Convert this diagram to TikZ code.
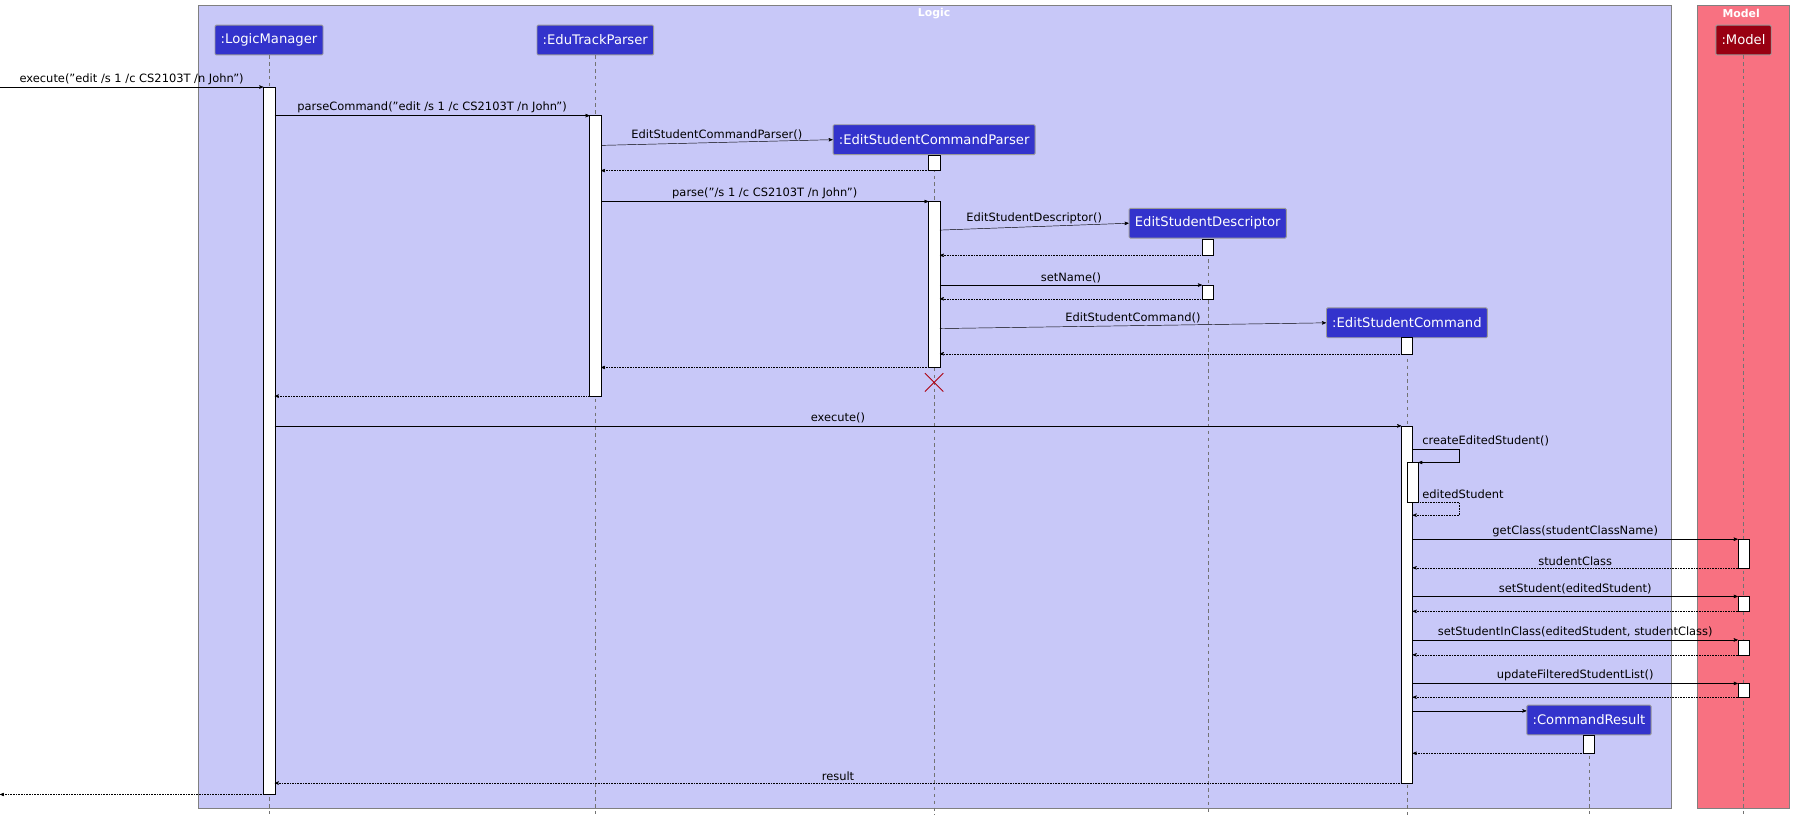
\documentclass[tikz,border=0pt]{standalone}
\usepackage{fontspec}
\setmainfont{DejaVu Sans}
\usetikzlibrary{positioning,calc,arrows}
\definecolor{logicbg}{RGB}{200,200,248}
\definecolor{modelbg}{RGB}{248,113,129}
\definecolor{partblue}{RGB}{51,51,204}
\definecolor{partred}{RGB}{153,0,18}
\begin{document}
\begin{tikzpicture}[x=1pt,y=-1pt,>=stealth',thick,
  part/.style={rectangle,rounded corners=1pt,draw=black!40,fill=partblue,text=white,font=\fontsize{11.5}{13}\selectfont,minimum height=26pt,inner xsep=5pt},
  act/.style={draw=black,fill=white,thin},
  life/.style={dashed,black!55,thin},
  msg/.style={->,thin},
  ret/.style={->,thin,densely dotted},
  lbl/.style={font=\fontsize{10}{12}\selectfont,inner sep=2pt}]
\useasboundingbox (0,0) rectangle (1568,712);
% boxes
  \draw[fill=logicbg,draw=black!50] (173,5) rectangle (1460,706);
  \draw[fill=modelbg,draw=black!50] (1483,5) rectangle (1563,706);
  \node[text=white,font=\bfseries\fontsize{9.5}{11}\selectfont] (logic) at (816,12) {Logic};
  \node[text=white,font=\bfseries\fontsize{9.5}{11}\selectfont] (model) at (1521,12) {Model};
% participants
  \node[part] (lm) at (235,35) {:LogicManager};
  \node[part] (etp) at (520,35) {:EduTrackParser};
  \node[part] (escp) at (816,122) {:EditStudentCommandParser};
  \node[part] (esd) at (1055,195) {EditStudentDescriptor};
  \node[part] (esc) at (1229,282) {:EditStudentCommand};
  \node[part] (cr) at (1388,629) {:CommandResult};
  \node[part,fill=partred] (mdl) at (1523,35) {:Model};
% lifelines
  \foreach \p/\x in {lm/235,etp/520,escp/816,esd/1055,esc/1229,cr/1388,mdl/1523}
    \draw[life] (\p.south) -- (\x,712);
% activations
  \draw[act] (230,76) rectangle (240,694);
  \draw[act] (515,101) rectangle (525,346);
  \draw[act] (811,136) rectangle (821,149);
  \draw[act] (811,176) rectangle (821,321);
  \draw[act] (1050,209) rectangle (1060,223);
  \draw[act] (1050,249) rectangle (1060,261);
  \draw[act] (1224,295) rectangle (1234,309);
  \draw[act] (1224,372) rectangle (1234,684);
  \draw[act] (1229,404) rectangle (1239,439);
  \foreach \a/\b in {471/496,521/534,559/572,597/609}
    \draw[act] (1518,\a) rectangle (1528,\b);
  \draw[act] (1383,642) rectangle (1393,658);
% destroy
  \draw[partred!80!red,thick] (808,326) -- (824,342) (808,342) -- (824,326);
% messages
  \draw[msg] (0,76) -- (230,76) node[lbl,midway,above] {execute("edit /s 1 /c CS2103T /n John")};
  \draw[msg] (240,101) -- (515,101) node[lbl,midway,above] {parseCommand("edit /s 1 /c CS2103T /n John")};
  \draw[msg] (525,127) -- (escp.west) node[lbl,midway,above] {EditStudentCommandParser()};
  \draw[ret] (811,149) -- (525,149);
  \draw[msg] (525,176) -- (811,176) node[lbl,midway,above] {parse("/s 1 /c CS2103T /n John")};
  \draw[msg] (821,201) -- (esd.west) node[lbl,midway,above] {EditStudentDescriptor()};
  \draw[ret] (1050,223) -- (821,223);
  \draw[msg] (821,249) -- (1050,249) node[lbl,midway,above] {setName()};
  \draw[ret] (1050,261) -- (821,261);
  \draw[msg] (821,287) -- (esc.west) node[lbl,midway,above] {EditStudentCommand()};
  \draw[ret] (1224,309) -- (821,309);
  \draw[ret] (811,321) -- (525,321);
  \draw[ret] (515,346) -- (240,346);
  \draw[msg] (240,372) -- (1224,372) node[lbl,midway,above] {execute()};
  \draw[msg] (1234,392) -- (1275,392) -- (1275,404) -- (1239,404);
  \node[lbl,anchor=south west] (ces) at (1240,392) {createEditedStudent()};
  \draw[ret] (1239,439) -- (1275,439) -- (1275,450) -- (1234,450);
  \node[lbl,anchor=south west] (eds) at (1240,438) {editedStudent};
  \draw[msg] (1234,471) -- (1518,471) node[lbl,midway,above] {getClass(studentClassName)};
  \draw[ret] (1518,496) -- (1234,496) node[lbl,midway,above] {studentClass};
  \draw[msg] (1234,521) -- (1518,521) node[lbl,midway,above] {setStudent(editedStudent)};
  \draw[ret] (1518,534) -- (1234,534);
  \draw[msg] (1234,559) -- (1518,559) node[lbl,midway,above] {setStudentInClass(editedStudent, studentClass)};
  \draw[ret] (1518,572) -- (1234,572);
  \draw[msg] (1234,597) -- (1518,597) node[lbl,midway,above] {updateFilteredStudentList()};
  \draw[ret] (1518,609) -- (1234,609);
  \draw[msg] (1234,621) -- (cr.west |- 0,621);
  \draw[ret] (1383,658) -- (1234,658);
  \draw[ret] (1224,684) -- (240,684) node[lbl,midway,above] {result};
  \draw[ret] (230,694) -- (0,694);
\end{tikzpicture}
\end{document}
